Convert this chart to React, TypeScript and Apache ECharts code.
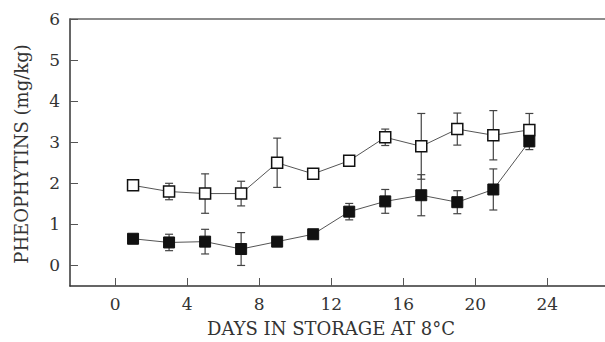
import React, { useEffect, useRef } from "react";
import * as echarts from "echarts";

const days = [1, 3, 5, 7, 9, 11, 13, 15, 17, 19, 21, 23];
const openValues = [1.95, 1.8, 1.75, 1.75, 2.5, 2.23, 2.55, 3.12, 2.9, 3.32, 3.17, 3.3];
const openErrors = [0, 0.2, 0.48, 0.3, 0.6, 0, 0, 0.2, 0.8, 0.39, 0.6, 0.4];
const filledValues = [0.65, 0.56, 0.58, 0.4, 0.58, 0.76, 1.31, 1.56, 1.71, 1.54, 1.85, 3.02];
const filledErrors = [0, 0.2, 0.3, 0.4, 0, 0, 0.2, 0.29, 0.5, 0.28, 0.5, 0.2];
const xTicks = [0, 4, 8, 12, 16, 20, 24];
const yTicks = [0, 1, 2, 3, 4, 5, 6];
const xTitle = "DAYS IN STORAGE AT 8°C";
const yTitle = "PHEOPHYTINS (mg/kg)";

const FONT = "DejaVu Serif";

export default function App() {
  const ref = useRef<HTMLDivElement>(null);
  useEffect(() => {
    if (!ref.current) return;
    const chart = echarts.init(ref.current, undefined, { renderer: "svg" });

    const errData = (vals: number[], errs: number[]) =>
      days.map((d, i) => [d, vals[i], errs[i]]);

    const renderErr = (params: any, api: any) => {
      const x = api.value(0);
      const y = api.value(1);
      const e = api.value(2);
      if (!e) return { type: "group", children: [] };
      const top = api.coord([x, y + e]);
      const bot = api.coord([x, y - e]);
      const hw = 4;
      const style = { stroke: "#444", lineWidth: 1.2 };
      return {
        type: "group",
        children: [
          { type: "line", shape: { x1: top[0], y1: top[1], x2: bot[0], y2: bot[1] }, style },
          { type: "line", shape: { x1: top[0] - hw, y1: top[1], x2: top[0] + hw, y2: top[1] }, style },
          { type: "line", shape: { x1: bot[0] - hw, y1: bot[1], x2: bot[0] + hw, y2: bot[1] }, style },
        ],
      };
    };

    chart.setOption({
      animation: false,
      grid: { left: 70, right: 0, top: 19, bottom: 56 },
      xAxis: [
        {
          type: "value",
          min: -2.5,
          max: 27.2,
          position: "bottom",
          axisLine: { show: true, onZero: false, lineStyle: { color: "#333", width: 1.5 } },
          axisTick: {
            show: true,
            inside: true,
            length: 8,
            customValues: xTicks,
            lineStyle: { color: "#555", width: 1 },
          },
          axisLabel: {
            customValues: xTicks,
            fontFamily: FONT,
            fontSize: 17,
            color: "#333",
            margin: 9,
          },
          splitLine: { show: false },
        },
        {
          type: "value",
          position: "top",
          min: -2.5,
          max: 27.2,
          axisLine: { show: true, onZero: false, lineStyle: { color: "#666", width: 1.5 } },
          axisTick: { show: false },
          axisLabel: { show: false },
          splitLine: { show: false },
        },
      ],
      yAxis: {
        type: "value",
        min: -0.5,
        max: 6,
        position: "left",
        axisLine: { show: true, onZero: false, lineStyle: { color: "#333", width: 1.5 } },
        axisTick: {
          show: true,
          inside: true,
          length: 8,
          customValues: yTicks,
          lineStyle: { color: "#555", width: 1 },
        },
        axisLabel: {
          customValues: yTicks,
          fontFamily: FONT,
          fontSize: 17,
          color: "#333",
          margin: 10,
        },
        splitLine: { show: false },
      },
      graphic: [
        {
          type: "text",
          x: 331,
          y: 328,
          style: {
            text: xTitle,
            fontFamily: FONT,
            fontSize: 18,
            fill: "#333",
            textAlign: "center",
            textVerticalAlign: "middle",
          },
        },
        {
          type: "text",
          x: 21,
          y: 154,
          rotation: Math.PI / 2,
          style: {
            text: yTitle,
            fontFamily: FONT,
            fontSize: 18,
            fill: "#333",
            textAlign: "center",
            textVerticalAlign: "middle",
          },
        },
      ],
      series: [
        {
          type: "custom",
          renderItem: renderErr,
          data: errData(openValues, openErrors),
          z: 1,
        },
        {
          type: "custom",
          renderItem: renderErr,
          data: errData(filledValues, filledErrors),
          z: 1,
        },
        {
          type: "line",
          data: days.map((d, i) => [d, openValues[i]]),
          symbol: "rect",
          symbolSize: 11,
          showAllSymbol: true,
          lineStyle: { color: "#555", width: 1 },
          itemStyle: { color: "#fff", borderColor: "#111", borderWidth: 1.5 },
          z: 3,
        },
        {
          type: "line",
          data: days.map((d, i) => [d, filledValues[i]]),
          symbol: "rect",
          symbolSize: 11,
          showAllSymbol: true,
          lineStyle: { color: "#555", width: 1 },
          itemStyle: { color: "#111", borderColor: "#111", borderWidth: 1 },
          z: 4,
        },
      ],
    });
    return () => chart.dispose();
  }, []);

  return (
    <div
      ref={ref}
      style={{ position: "absolute", left: 0, top: 0, width: 605, height: 342, background: "#fff" }}
    />
  );
}
